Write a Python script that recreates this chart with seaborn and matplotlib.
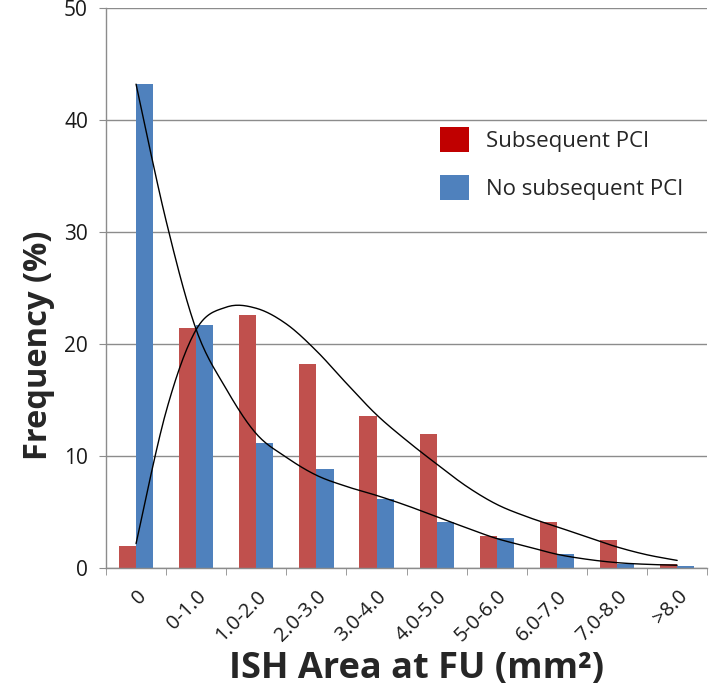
import numpy as np
import pandas as pd
import matplotlib
matplotlib.use("Agg")
import matplotlib.pyplot as plt
from matplotlib.patches import Patch
import seaborn as sns

# Data
categories = ["0", "0-1.0", "1.0-2.0", "2.0-3.0", "3.0-4.0", "4.0-5.0",
              "5-0-6.0", "6.0-7.0", "7.0-8.0", ">8.0"]
subsequent_pci = [2.0, 21.4, 22.6, 18.2, 13.6, 12.0, 2.9, 4.1, 2.5, 0.4]
no_subsequent_pci = [43.2, 21.7, 11.2, 8.9, 6.2, 4.1, 2.7, 1.3, 0.4, 0.2]

# fitted trend curves, read at every half category (0, 0.5, 1, ... 9)
fit_steps = [0, 0.5, 1, 1.5, 2, 2.5, 3, 3.5, 4, 4.5,
             5, 5.5, 6, 6.5, 7, 7.5, 8, 8.5, 9]
fit_subsequent = [2.2, 14.0, 21.3, 23.3, 23.2, 21.8, 19.4, 16.5, 13.7, 11.4,
                  9.3, 7.3, 5.7, 4.6, 3.7, 2.8, 1.9, 1.2, 0.7]
fit_no_subsequent = [43.2, 31.0, 21.3, 16.0, 12.0, 9.9, 8.3, 7.3, 6.5, 5.6,
                     4.6, 3.6, 2.65, 1.95, 1.25, 0.8, 0.5, 0.35, 0.27]
y_ticks = [0, 10, 20, 30, 40, 50]

series_names = ["Subsequent PCI", "No subsequent PCI"]
bar_colors = ["#C0504D", "#4F81BD"]
legend_colors = ["#C00000", "#4F81BD"]


def smooth_curve(xv, yv, n=16):
    # Excel-style smoothed line (Catmull-Rom through the points)
    x = np.asarray(xv, dtype=float)
    y = np.asarray(yv, dtype=float)
    px = np.concatenate([[x[0]], x, [x[-1]]])
    py = np.concatenate([[y[0]], y, [y[-1]]])
    t = np.linspace(0, 1, n, endpoint=False)
    xs, ys = [], []
    for i in range(len(y) - 1):
        for p, out in ((px, xs), (py, ys)):
            p0, p1, p2, p3 = p[i], p[i + 1], p[i + 2], p[i + 3]
            out.append(0.5 * ((2 * p1) + (-p0 + p2) * t
                              + (2 * p0 - 5 * p1 + 4 * p2 - p3) * t ** 2
                              + (-p0 + 3 * p1 - 3 * p2 + p3) * t ** 3))
    xs.append([x[-1]])
    ys.append([y[-1]])
    return np.concatenate(xs), np.concatenate(ys)


df = pd.DataFrame({
    "category": categories * 2,
    "group": [series_names[0]] * len(categories) + [series_names[1]] * len(categories),
    "value": subsequent_pci + no_subsequent_pci,
})

sns.set_style("white")
plt.rcParams["font.family"] = ["Open Sans", "DejaVu Sans"]

fig = plt.figure(figsize=(7.09, 6.93), dpi=100)
ax = fig.add_axes([0.1495, 0.180, 0.848, 0.8085])

sns.barplot(data=df, x="category", y="value", hue="group", order=categories,
            hue_order=series_names, palette=bar_colors, width=0.57,
            saturation=1, edgecolor="none", legend=False, ax=ax)

for fit in (fit_subsequent, fit_no_subsequent):
    cx, cy = smooth_curve(fit_steps, fit)
    ax.plot(cx, cy, color="black", lw=1.0, zorder=5)

ax.set_xlim(-0.5, len(categories) - 0.5)
ax.set_ylim(0, 50)
ax.set_yticks(y_ticks)
ax.yaxis.grid(True, color="#8C8C8C", lw=1.0)
ax.set_axisbelow(True)

for side in ("top", "right"):
    ax.spines[side].set_visible(False)
for side in ("left", "bottom"):
    ax.spines[side].set_color("#8C8C8C")
    ax.spines[side].set_linewidth(1.0)

ax.tick_params(axis="y", direction="out", length=5, color="#8C8C8C",
               labelsize=15, labelcolor="#1A1A1A", pad=8, left=True)
ax.set_xticks(np.arange(len(categories)))
ax.set_xticklabels(categories, rotation=45, ha="right", rotation_mode="anchor",
                   fontsize=14.5, color="#1A1A1A")
ax.tick_params(axis="x", which="major", length=0, pad=13)
ax.set_xticks(np.arange(-0.5, len(categories)), minor=True)
ax.tick_params(axis="x", which="minor", direction="out", length=5,
               color="#8C8C8C", bottom=True)

ax.set_xlabel("ISH Area at FU (mm²)", fontsize=26, fontweight="bold")
ax.xaxis.set_label_coords(0.517, -0.148)
ax.set_ylabel("Frequency (%)", fontsize=23.5, fontweight="bold")
ax.yaxis.set_label_coords(-0.085, 0.398)

handles = [Patch(facecolor=c, edgecolor="none") for c in legend_colors]
ax.legend(handles, series_names, loc="upper left", bbox_to_anchor=(0.556, 0.788),
          frameon=False, fontsize=16, handlelength=1.27, handleheight=1.4,
          labelspacing=1.0, handletextpad=0.8, borderaxespad=0, borderpad=0)

fig.savefig("out.png", dpi=100)
